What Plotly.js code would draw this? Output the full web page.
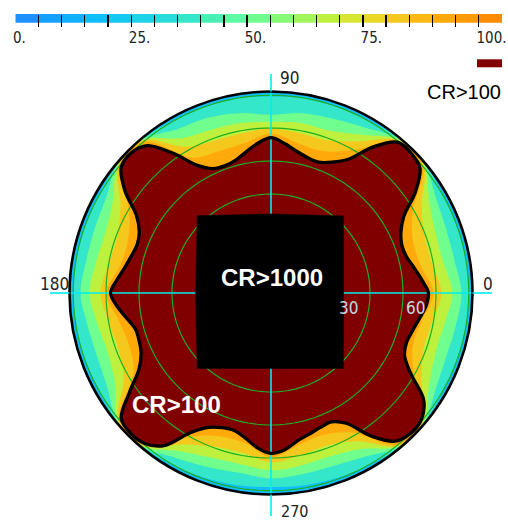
<!DOCTYPE html>
<html><head><meta charset="utf-8">
<script src="https://cdn.plot.ly/plotly-3.0.1.min.js"></script>
<style>html,body{margin:0;padding:0;background:#fff;}#chart{width:508px;height:520px;}</style>
</head><body><div id="chart"></div>
<script>
const W = 508, H = 520;

// ---- colour scale (blocks of 5 units) ----
const cbLevels = [0,5,10,15,20,25,30,35,40,45,50,55,60,65,70,75,80,85,90,95,100];
const cbColors = ['rgb(30,144,255)','rgb(20,160,255)','rgb(18,175,255)','rgb(15,190,250)','rgb(20,200,242)',
  'rgb(30,210,232)','rgb(40,220,220)','rgb(52,230,202)','rgb(72,240,182)','rgb(92,250,162)',
  'rgb(112,255,142)','rgb(135,250,118)','rgb(162,245,90)','rgb(190,240,62)','rgb(215,230,50)',
  'rgb(235,215,40)','rgb(245,200,30)','rgb(255,186,20)','rgb(255,170,10)','rgb(255,155,0)','rgb(255,140,0)'];
const cbTickText = ['0.','','','','','25.','','','','','50.','','','','','75.','','','','','100.'];

// ---- CR>100 boundary (viewing angle, degrees) ----
const contourTheta = [0,5,10,15,20,25,30,35,40,45,50,55,60,65,70,75,80,85,
  90,95,100,105,110,115,120,125,130,135,140,145,150,155,160,165,170,175,
  180,185,190,195,200,205,210,215,220,225,230,235,240,245,250,255,260,265,
  270,275,280,285,290,295,300,305,310,315,320,325,330,335,340,345,350,355];
const contourR = [62.5,60.1,57.7,55.7,55.3,56.9,60.9,70.0,77.2,78.6,78.2,70.8,61.3,57.3,55.3,55.7,57.3,59.7,
  61.7,59.7,56.9,54.5,53.7,54.5,58.5,67.7,76.4,78.6,77.6,70.8,61.7,57.7,56.5,57.3,58.9,61.3,
  63.7,61.3,58.1,55.7,55.7,56.9,60.5,68.5,77.6,78.8,78.0,74.0,64.1,58.9,56.9,56.5,58.5,61.7,
  63.7,62.5,59.7,58.1,56.9,56.5,59.7,69.3,76.8,78.6,78.0,74.0,64.1,58.5,57.3,58.1,59.7,61.7];

// ---- outer edges of the colour bands ----
const bandTheta = [0,10,20,30,40,50,60,70,80,90,100,110,120,130,140,150,160,170,
  180,190,200,210,220,230,240,250,260,270,280,290,300,310,320,330,340,350];
const bandValues = [35, 50, 65, 80, 92];
const cyanR = [78.4,78.4,78.4,78.6,79.8,79.8,78.6,78.4,78.4, 78.0,78.4,78.4,78.6,79.8,79.8,78.6,78.4,78.4,
  78.4,78.4,78.4,78.6,79.8,79.8,78.6,78.0,77.5, 77.0,77.5,78.0,78.6,79.8,79.8,78.6,78.4,78.4];
const greenR = [75.6,74.0,74.0,75.6,79.6,79.6,75.6,73.5,72.5, 70.8,72.5,74.0,75.0,79.6,79.6,75.6,74.5,74.5,
  75.6,74.0,73.5,75.0,79.6,79.6,75.6,73.5,72.5, 73.6,73.0,73.0,75.0,79.6,79.6,75.6,74.0,74.5];
const yellowGreenR = [72.0,69.5,69.5,72.5,79.3,79.3,72.5,68.5,68.5, 68.0,68.5,69.0,71.0,79.3,79.3,72.5,70.0,70.5,
  72.0,70.0,69.0,71.5,79.3,79.4,72.5,69.5,69.0, 70.4,69.5,69.0,71.5,79.3,79.3,72.5,69.5,70.0];
const yellowR = [67.7,65.0,65.0,69.0,79.0,79.0,69.5,64.5,64.5, 65.3,64.5,64.5,67.0,79.0,79.0,69.0,65.0,65.5,
  67.7,65.5,64.5,67.5,79.0,79.2,69.5,65.0,64.5, 67.3,65.5,64.5,68.0,79.0,79.0,69.0,64.5,65.0];
const orangeR = [64.5,60.5,60.0,65.0,78.6,78.6,65.5,60.0,60.5, 63.3,60.5,60.0,62.0,78.4,78.6,65.0,60.5,61.0,
  65.5,61.5,60.0,63.0,78.6,78.8,66.0,60.5,60.5, 65.3,61.5,60.0,64.0,78.6,78.4,65.5,60.0,61.0];
const edgeValue = 17;

// ---- CR>1000 region ----
const squareTheta = [46.8, 90, 133.7, 180, 225.6, 270, 313.8, 0, 46.8];
const squareR = [42.0, 31.4, 42.4, 29.9, 41.9, 30.0, 41.5, 28.8, 42.0];

// ---- grid circles ----
const gridR = [13.1, 26.2, 39.3, 52.4, 65.5, 78.5];
const radialMax = 80;

const colorOf = v => cbColors[Math.min(20, Math.floor(v / 5))];
const close = a => a.concat([a[0]]);
const closeT = a => a.concat([a[0] + 360]);

const traces = [];
const bandArrays = [cyanR, greenR, yellowGreenR, yellowR, orangeR];
bandArrays.forEach((arr, i) => {
  const c = colorOf(bandValues[i]);
  traces.push({type:'scatterpolar', r: close(arr), theta: closeT(bandTheta), mode:'lines',
    line:{width:0, shape:'spline', color:c}, fill:'toself', fillcolor:c, hoverinfo:'skip'});
});
traces.push({type:'scatterpolar', r: close(contourR), theta: closeT(contourTheta), mode:'lines',
  line:{width:0, shape:'spline', color:'rgb(128,0,0)'}, fill:'toself', fillcolor:'rgb(128,0,0)', hoverinfo:'skip'});
const circTheta = [];
for (let t = 0; t <= 360; t += 2) circTheta.push(t);
gridR.forEach(rr => traces.push({type:'scatterpolar', r: circTheta.map(() => rr), theta: circTheta, mode:'lines',
  line:{width:1.2, color:'rgb(30,175,30)'}, hoverinfo:'skip'}));
[[0,180],[90,270]].forEach(th => traces.push({type:'scatterpolar', r:[radialMax, radialMax], theta: th, mode:'lines',
  line:{width:1.6, color:'rgb(0,238,238)'}, hoverinfo:'skip'}));
traces.push({type:'scatterpolar', r: squareR, theta: squareTheta, mode:'lines',
  line:{width:0.5, color:'black'}, fill:'toself', fillcolor:'black', hoverinfo:'skip'});
traces.push({type:'scatterpolar', r: close(contourR), theta: closeT(contourTheta), mode:'lines',
  line:{width:3.3, shape:'spline', color:'black'}, hoverinfo:'skip'});

// colour bar
const cs = [];
cbColors.forEach((c, i) => { cs.push([i / 21, c]); cs.push([(i + 1) / 21, c]); });
traces.push({type:'heatmap', x: cbLevels.map(v => v + 2.5), y:[0.5], z:[cbLevels.map((v, i) => i)],
  colorscale: cs, zmin:-0.5, zmax:20.5, showscale:false, xaxis:'x2', yaxis:'y2', hoverinfo:'skip'});

const narrow = "'Liberation Sans Narrow', 'DejaVu Sans Condensed', 'Arial Narrow', sans-serif";
const sans = "'Liberation Sans', Arial, sans-serif";
const px = x => x / W, py = y => 1 - y / H;

// polar geometry (pixels)
const cx = 271, cy = 293, R = 201.5;
const ann = (text, x, y, opt) => Object.assign({text, x: px(x), y: py(y), xref:'paper', yref:'paper',
  showarrow:false, xanchor:'center', yanchor:'middle', font:{family: narrow, size:17, color:'#222'}}, opt || {});

const layout = {
  width: W, height: H, margin:{l:0,r:0,t:0,b:0}, paper_bgcolor:'white', showlegend:false,
  polar: {
    domain:{x:[px(cx - R), px(cx + R)], y:[py(cy + R), py(cy - R)]},
    bgcolor: colorOf(edgeValue),
    radialaxis:{visible:false, range:[0, radialMax]},
    angularaxis:{visible:true, showline:true, linecolor:'black', linewidth:2.6, showgrid:false,
      showticklabels:false, ticks:'', rotation:0, direction:'counterclockwise'}
  },
  xaxis2:{domain:[px(15.3), px(502)], range:[0,105], anchor:'free', position: py(27),
    tickvals: cbLevels, ticktext: cbTickText, ticks:'inside', ticklen:12, tickwidth:1.3, tickcolor:'black',
    ticklabelposition:'outside right', ticklabeloverflow:'allow', ticklabelshift:-3,
    showgrid:false, zeroline:false, showline:false,
    tickfont:{family: narrow, size:15, color:'#222'}, fixedrange:true},
  yaxis2:{domain:[py(22.7), py(14)], range:[0,1], visible:false, fixedrange:true},
  shapes: [
    {type:'line', xref:'paper', yref:'paper', x0:px(50), x1:px(cx - R), y0:py(cy), y1:py(cy), line:{color:'rgb(0,238,238)', width:1.6}},
    {type:'line', xref:'paper', yref:'paper', x0:px(cx + R), x1:px(492), y0:py(cy), y1:py(cy), line:{color:'rgb(0,238,238)', width:1.6}},
    {type:'line', xref:'paper', yref:'paper', x0:px(cx), x1:px(cx), y0:py(74), y1:py(cy - R), line:{color:'rgb(0,238,238)', width:1.6}},
    {type:'line', xref:'paper', yref:'paper', x0:px(cx), x1:px(cx), y0:py(cy + R), y1:py(516), line:{color:'rgb(0,238,238)', width:1.6}},
    {type:'rect', xref:'paper', yref:'paper', x0:px(477), x1:px(502), y0:py(67.3), y1:py(59.3), fillcolor:'rgb(128,0,0)', line:{width:0}}
  ],
  annotations: [
    ann('90', 289.5, 77.7),
    ann('180', 54.4, 284),
    ann('0', 487.5, 284.3),
    ann('270', 294, 511, {font:{family: narrow, size:16, color:'#222'}}),
    ann('30', 348, 308, {font:{family: narrow, size:17, color:'rgb(195,220,232)'}}),
    ann('60', 415, 308, {font:{family: narrow, size:17, color:'rgb(195,220,232)'}}),
    ann('CR&gt;1000', 272, 277.7, {font:{family: sans, size:24, color:'white', weight:700}}),
    ann('CR&gt;100', 176, 404.7, {font:{family: sans, size:24, color:'white', weight:700}}),
    ann('CR&gt;100', 463.5, 92, {font:{family: sans, size:20, color:'black'}})
  ]
};

Plotly.newPlot('chart', traces, layout, {staticPlot:true, displayModeBar:false});
</script></body></html>
